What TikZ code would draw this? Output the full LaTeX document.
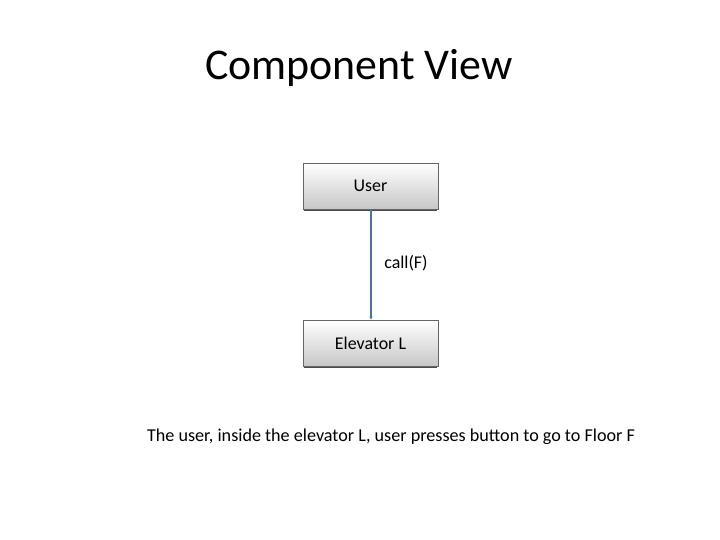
\documentclass[tikz,border=0pt]{standalone}
\usepackage{fontspec}
\setmainfont{Carlito}
\usetikzlibrary{arrows.meta}
\definecolor{linkblue}{RGB}{74,116,160}
\begin{document}
\begin{tikzpicture}[x=1bp,y=-1bp,
  comp/.style={draw=black!60,line width=0.6bp,top color=white,bottom color=black!22,
    minimum width=135bp,minimum height=46bp,inner sep=0pt,font=\fontsize{18}{21}\selectfont},
  conn/.style={draw=linkblue,line width=1.3bp}]
\useasboundingbox (0,0) rectangle (720,540);
\node[font=\fontsize{44}{52}\selectfont] (title) at (359,68) {Component View};
\node[comp] (user) at (370.5,186) {User};
\node[comp] (elev) at (370.5,343) {Elevator L};
\draw[black!70,line width=1bp] (elev.south west) ++(1,1) -- ([shift={(-1,1)}]elev.south east);
\draw[black!70,line width=1bp] (user.south west) ++(1,1) -- ([shift={(-1,1)}]user.south east);
\coordinate (mid) at (371,272);
\draw[conn] (user.south -| mid) -- (mid);
\draw[conn,line width=1.9bp,-{Latex[length=3bp,width=3.5bp]}] (mid) -- (elev.north -| mid);
\node[font=\fontsize{18}{21}\selectfont] (lbl) at (406,263) {call(F)};
\node[font=\fontsize{18.2}{22}\selectfont] (cap) at (391,437) {The user, inside the elevator L, user presses button to go to Floor F};
\end{tikzpicture}
\end{document}
